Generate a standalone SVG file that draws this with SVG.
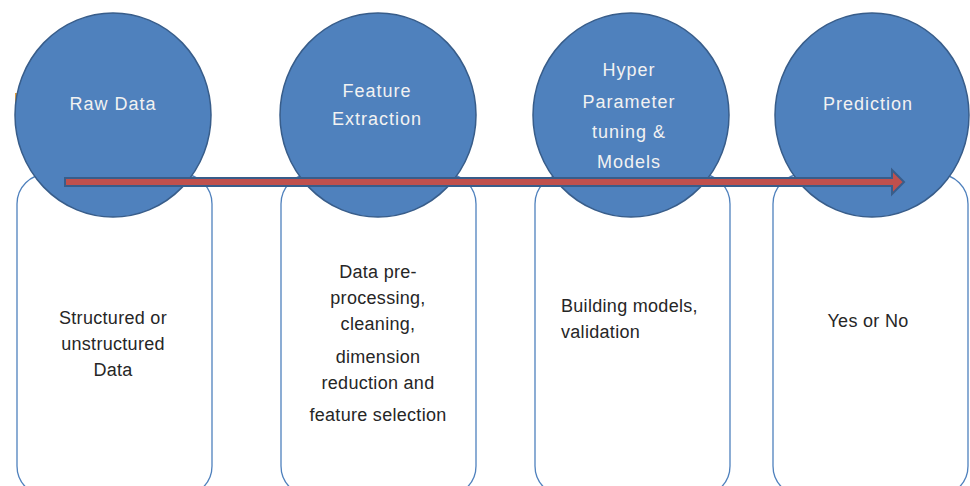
<svg xmlns="http://www.w3.org/2000/svg" width="970" height="486" viewBox="0 0 970 486">
<style>
.box{fill:#ffffff;stroke:#4F81BD;stroke-width:1.3}
.circ{fill:#4F81BD;stroke:#385D8A;stroke-width:1.5}
.ct{font-family:"Liberation Sans",Arial,sans-serif;font-size:18px;fill:#F2F2F2;text-anchor:middle;letter-spacing:1px}
.bt{font-family:"Liberation Sans",Arial,sans-serif;font-size:18px;fill:#262626;text-anchor:middle;letter-spacing:0.3px}
</style>
<rect x="0" y="0" width="970" height="486" fill="#ffffff"/>
<g id="box-raw"><rect class="box" x="17" y="174" width="195" height="322" rx="30" ry="30"/>
<text class="bt" x="113" y="324">Structured or</text>
<text class="bt" x="113" y="350">unstructured</text>
<text class="bt" x="113" y="376">Data</text></g>
<g id="box-feature"><rect class="box" x="281" y="174" width="195" height="322" rx="30" ry="30"/>
<text class="bt" x="378" y="278">Data pre-</text>
<text class="bt" x="378" y="304">processing,</text>
<text class="bt" x="378" y="330">cleaning,</text>
<text class="bt" x="378" y="363">dimension</text>
<text class="bt" x="378" y="389">reduction and</text>
<text class="bt" x="378" y="421">feature selection</text></g>
<g id="box-hyper"><rect class="box" x="535" y="174" width="195" height="322" rx="30" ry="30"/>
<text class="bt" x="561" y="312" text-anchor="start" style="text-anchor:start">Building models,</text>
<text class="bt" x="561" y="338" style="text-anchor:start">validation</text></g>
<g id="box-pred"><rect class="box" x="773" y="174" width="195" height="322" rx="30" ry="30"/>
<text class="bt" x="868" y="327">Yes or No</text></g>
<rect x="15" y="93" width="3" height="24" fill="#E5A03C"/>
<g id="raw-data"><ellipse class="circ" cx="113" cy="115" rx="98" ry="102"/>
<text class="ct" x="113" y="110">Raw Data</text></g>
<g id="feature-extraction"><ellipse class="circ" cx="378" cy="115" rx="98" ry="102"/>
<text class="ct" x="377" y="97">Feature</text>
<text class="ct" x="377" y="125">Extraction</text></g>
<g id="hyper-parameter"><ellipse class="circ" cx="631" cy="115" rx="98" ry="102"/>
<text class="ct" x="629" y="76">Hyper</text>
<text class="ct" x="629" y="108">Parameter</text>
<text class="ct" x="629" y="138">tuning &amp;</text>
<text class="ct" x="629" y="168">Models</text></g>
<g id="prediction"><ellipse class="circ" cx="872" cy="115" rx="97" ry="102"/>
<text class="ct" x="868" y="110">Prediction</text></g>
<g id="connectors">
<path d="M65,178 L892,178 L892,170 L904,182 L892,194 L892,186 L65,186 Z" fill="#C0504D" stroke="#385D8A" stroke-width="2" stroke-linejoin="miter"/>
</g>
</svg>
